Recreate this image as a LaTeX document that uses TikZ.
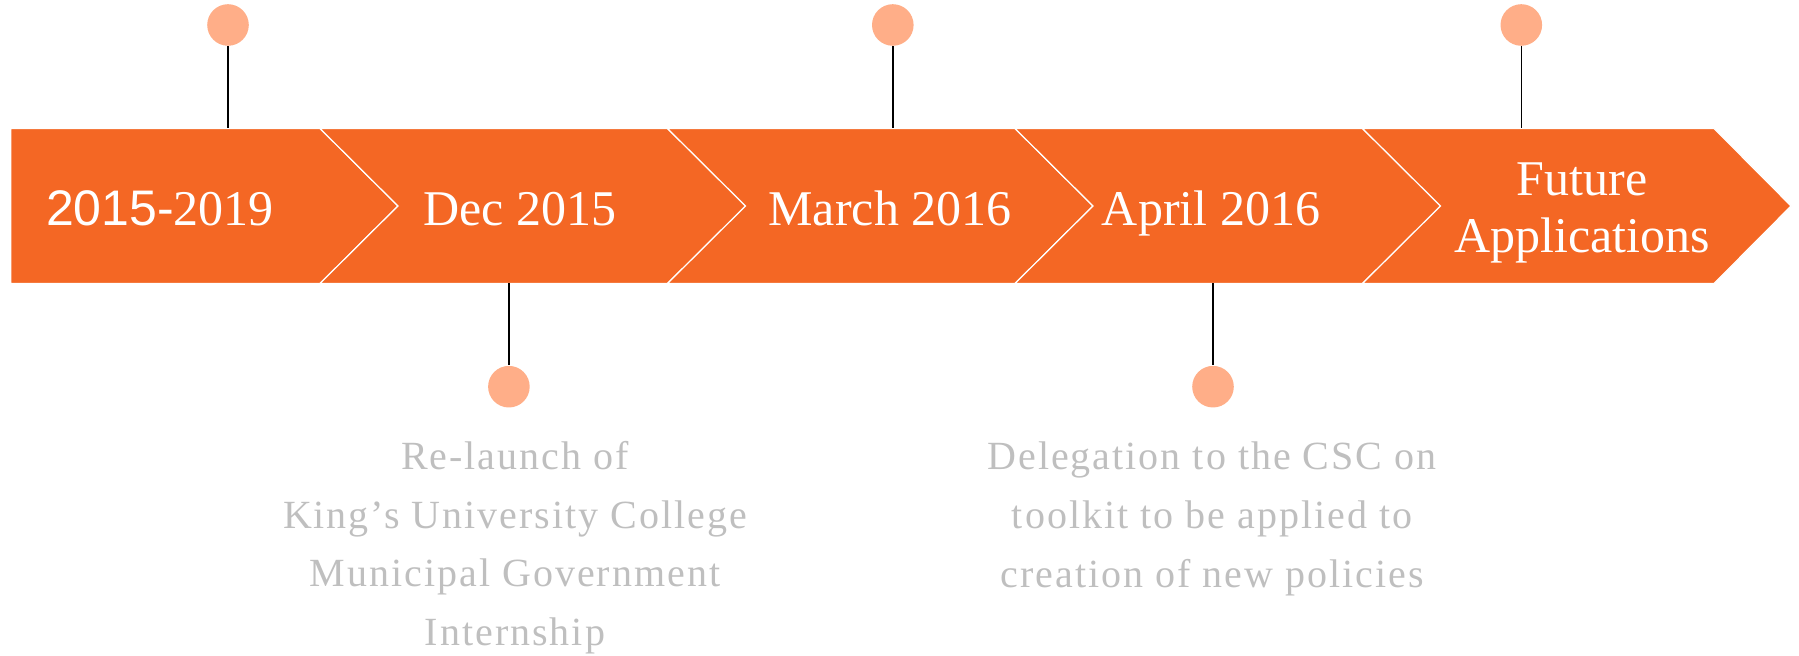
\documentclass[tikz,border=0pt]{standalone}
\usepackage{fontspec}
\setmainfont{Liberation Serif}
\newfontfamily\arialf{Liberation Sans}
\newfontfamily\spaced[LetterSpace=5.0]{Liberation Serif}
\definecolor{bandorange}{RGB}{244,103,36}
\definecolor{dotsalmon}{RGB}{255,174,136}
\definecolor{softgrey}{RGB}{191,191,191}
\tikzset{
  seg/.style={fill=bandorange, draw=white, line width=0.6pt, line join=miter},
  dot/.style={circle, fill=dotsalmon, minimum size=20.8pt, inner sep=0pt},
  stem/.style={draw=black, line width=0.8pt},
  datelabel/.style={text=white, font=\fontsize{25}{28.5}\selectfont, anchor=base, inner sep=0pt, align=center},
  desc/.style={text=softgrey, font=\spaced\fontsize{20}{29.4}\selectfont, anchor=base, inner sep=0pt, align=center}
}
\begin{document}
\begin{tikzpicture}[x=0.5pt,y=-0.5pt]
\useasboundingbox (0,0) rectangle (1799,656);
% band segments
\path[seg] (10.7,128.5) -- (320,128.5) -- (398,206) -- (320,283.5) -- (10.7,283.5) -- cycle;
\path[seg] (320,128.5) -- (667.5,128.5) -- (745.5,206) -- (667.5,283.5) -- (320,283.5) -- (398,206) -- cycle;
\path[seg] (667.5,128.5) -- (1015,128.5) -- (1093,206) -- (1015,283.5) -- (667.5,283.5) -- (745.5,206) -- cycle;
\path[seg] (1015,128.5) -- (1362.5,128.5) -- (1440.5,206) -- (1362.5,283.5) -- (1015,283.5) -- (1093,206) -- cycle;
\path[seg] (1362.5,128.5) -- (1714,128.5) -- (1791,206) -- (1714,283.5) -- (1362.5,283.5) -- (1440.5,206) -- cycle;
% labels on band
\node[datelabel] (l1) at (160,225.5) {{\arialf 2015-}2019};
\node[datelabel] (l2) at (520,225.5) {Dec 2015};
\node[datelabel] (l3) at (890,225.5) {March 2016};
\node[datelabel] (l4) at (1211,225.5) {April 2016};
\node[datelabel] (l5) at (1582,253) {Future\\Applications};
% dots
\node[dot] (d1) at (228,25) {};
\node[dot] (d3) at (892.8,25) {};
\node[dot] (d5) at (1521.3,25) {};
\node[dot] (d2) at (508.9,386.7) {};
\node[dot] (d4) at (1213,386.7) {};
% stem ends on band
\coordinate (b1) at (228,128.5);
\coordinate (b3) at (892.8,128.5);
\coordinate (b5) at (1521.3,128.5);
\coordinate (b2) at (508.9,283.5);
\coordinate (b4) at (1213,283.5);
\draw[stem] (d1) -- (b1);
\draw[stem] (d3) -- (b3);
\draw[stem] (d5) -- (b5);
\draw[stem] (b2) -- (d2);
\draw[stem] (b4) -- (d4);
% descriptions
\node[desc] (t2) at (515,645.7) {Re-launch of\\King’s University College\\Municipal Government\\Internship};
\node[desc] (t4) at (1212,587.3) {Delegation to the CSC on\\toolkit to be applied to\\creation of new policies};
\end{tikzpicture}
\end{document}
